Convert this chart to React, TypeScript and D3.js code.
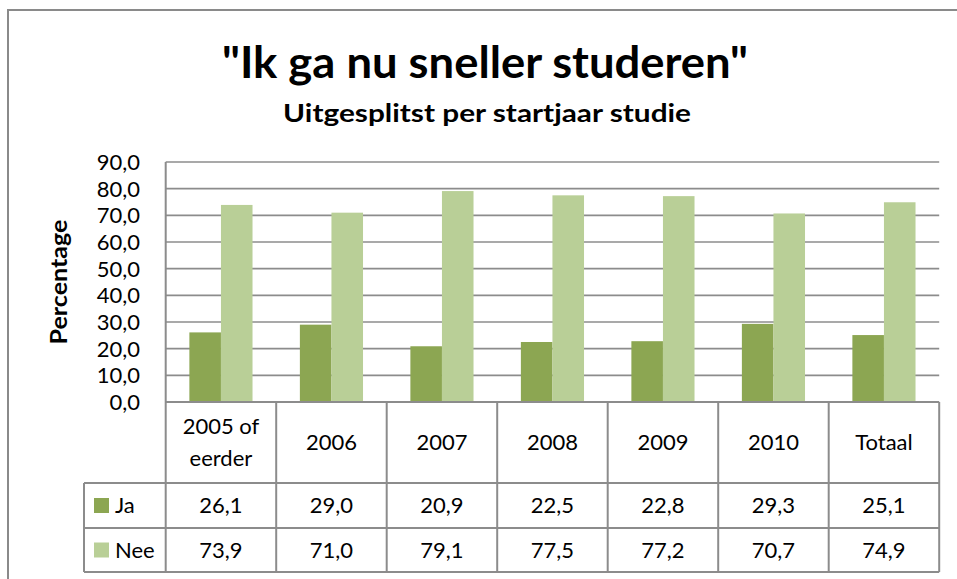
import React from "react";
import * as d3 from "d3";

const categories = ["2005 of eerder", "2006", "2007", "2008", "2009", "2010", "Totaal"];
const categoryLines = [["2005 of", "eerder"], ["2006"], ["2007"], ["2008"], ["2009"], ["2010"], ["Totaal"]];
const seriesNames = ["Ja", "Nee"];
const jaValues = [26.1, 29.0, 20.9, 22.5, 22.8, 29.3, 25.1];
const neeValues = [73.9, 71.0, 79.1, 77.5, 77.2, 70.7, 74.9];
const yTicks = [0, 10, 20, 30, 40, 50, 60, 70, 80, 90];

const colors = ["#8CA652", "#B9CF97"];
const gridColor = "#8C8C8C";
const font = "Lato, 'Open Sans', sans-serif";

export default function App() {
  const W = 957, H = 579;
  const left = 165.7, right = 939.2, top = 162, bottom = 402;
  const hdrBottom = 483, jaBottom = 528, neeBottom = 572;
  const legendLeft = 84;

  const x = d3.scaleBand<string>().domain(categories).range([left, right]).paddingInner(0).paddingOuter(0);
  const bw = x.bandwidth();
  const barW = bw / 3.5;
  const inner = d3.scaleBand<string>().domain(seriesNames).range([(bw - 2 * barW) / 2, (bw + 2 * barW) / 2]).padding(0);
  const y = d3.scaleLinear().domain([0, 90]).range([bottom, top]);
  const fmt = (v: number) => d3.format(".1f")(v).replace(".", ",");
  const series = [jaValues, neeValues];
  const rowCenters = [(hdrBottom + jaBottom) / 2, (jaBottom + neeBottom) / 2];
  const fs = 22;

  return (
    <svg width={W} height={H} style={{ position: "absolute", left: 0, top: 0, background: "#fff" }} fontFamily={font}>
      <rect x={0} y={0} width={W} height={H} fill="#fff" />
      {/* chart border */}
      <path d={`M8,${H + 5} V10 H${W + 5}`} fill="none" stroke="#8a8a8a" strokeWidth={2} />

      {/* title */}
      <text x={485} y={78} textAnchor="middle" fontSize={43} fontWeight="bold" fill="#000"
        textLength={526} lengthAdjust="spacingAndGlyphs">"Ik ga nu sneller studeren"</text>
      <text x={487} y={122} textAnchor="middle" fontSize={25} fontWeight="bold" fill="#000"
        textLength={408} lengthAdjust="spacingAndGlyphs">Uitgesplitst per startjaar studie</text>

      {/* gridlines */}
      {yTicks.filter(t => t > 0).map(t => (
        <line key={t} x1={left} x2={right} y1={y(t)} y2={y(t)} stroke={gridColor} strokeWidth={1.6} />
      ))}

      {/* bars */}
      {categories.map((c, i) => (
        <g key={c}>
          {series.map((vals, s) => (
            <rect key={s} x={(x(c) as number) + (inner(seriesNames[s]) as number)} y={y(vals[i])}
              width={inner.bandwidth()} height={bottom - y(vals[i])} fill={colors[s]} />
          ))}
        </g>
      ))}

      {/* y axis */}
      <line x1={left} x2={left} y1={top} y2={neeBottom} stroke={gridColor} strokeWidth={2} />
      {yTicks.map(t => (
        <text key={t} x={140} y={y(t)} dy="0.36em" textAnchor="end" fontSize={fs} fill="#000">{fmt(t)}</text>
      ))}
      <text transform={`translate(67,${(top + bottom) / 2}) rotate(-90)`} textAnchor="middle" fontSize={22} fontWeight="bold" fill="#000"
        textLength={125} lengthAdjust="spacingAndGlyphs">Percentage</text>

      {/* data table */}
      <line x1={left} x2={right} y1={bottom} y2={bottom} stroke={gridColor} strokeWidth={2} />
      {[hdrBottom, jaBottom, neeBottom].map(yy => (
        <line key={yy} x1={legendLeft} x2={right} y1={yy} y2={yy} stroke={gridColor} strokeWidth={2} />
      ))}
      <line x1={legendLeft} x2={legendLeft} y1={hdrBottom} y2={neeBottom} stroke={gridColor} strokeWidth={2} />
      {categories.map(c => (
        <line key={c} x1={(x(c) as number) + bw} x2={(x(c) as number) + bw} y1={bottom} y2={neeBottom} stroke={gridColor} strokeWidth={2} />
      ))}
      {categories.map((c, i) => {
        const cx = (x(c) as number) + bw / 2;
        const lines = categoryLines[i];
        const mid = (bottom + hdrBottom) / 2;
        return (
          <g key={c}>
            {lines.map((ln, k) => (
              <text key={k} x={cx} y={mid + (k - (lines.length - 1) / 2) * 32} dy="0.36em" textAnchor="middle" fontSize={fs} fill="#000">{ln}</text>
            ))}
            {series.map((vals, s) => (
              <text key={s} x={cx} y={rowCenters[s]} dy="0.36em" textAnchor="middle" fontSize={fs} fill="#000">{fmt(vals[i])}</text>
            ))}
          </g>
        );
      })}
      {seriesNames.map((n, s) => (
        <g key={n}>
          <rect x={94} y={rowCenters[s] - 7.5} width={15} height={15} fill={colors[s]} />
          <text x={115} y={rowCenters[s]} dy="0.36em" fontSize={fs} fill="#000">{n}</text>
        </g>
      ))}
    </svg>
  );
}
